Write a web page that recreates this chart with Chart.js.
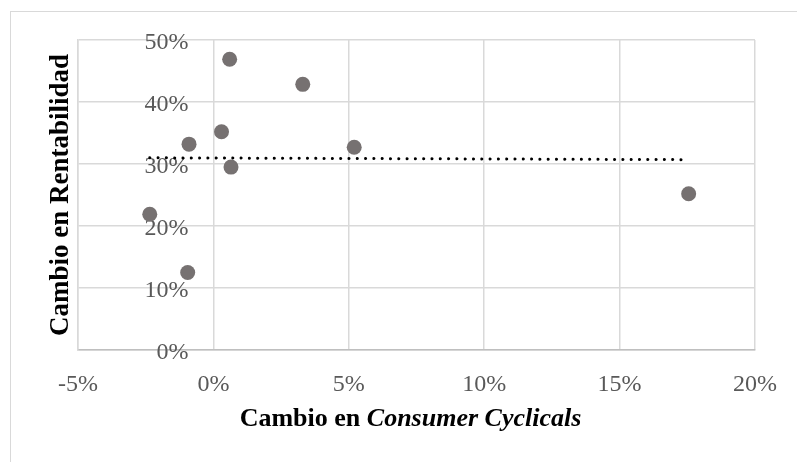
<!DOCTYPE html>
<html>
<head>
<meta charset="utf-8">
<script src="https://cdn.jsdelivr.net/npm/chart.js@4.4.1/dist/chart.umd.min.js"></script>
<style>
    html, body { margin: 0; padding: 0; background: #fff; }
    #wrap { position: relative; width: 797px; height: 462px; overflow: hidden; }
    #frame { position: absolute; left: 10px; top: 11px; width: 800px; height: 470px; border: 1px solid #d9d9d9; }
    #wrap canvas { position: absolute; left: 0; top: 0; }
</style>
</head>
<body>
<div id="wrap">
    <div id="frame"></div>
    <canvas id="cvs" width="797" height="462"></canvas>
</div>
<script>
// cambio en Consumer Cyclicals (%) vs cambio en rentabilidad (%)
const cambioCC     = [0.6, 3.3, 0.3, -0.9, 5.2, 0.65, -2.35, -0.95, 17.55];
const rentabilidad = [46.9, 42.85, 35.2, 33.2, 32.7, 29.5, 21.9, 12.5, 25.2];
// linea de tendencia (extremos)
const tendX = [-2.35, 17.55];
const tendY = [31.0, 30.7];

const xTitle = ['Cambio en ', 'Consumer Cyclicals'];
const yTitle = 'Cambio en Rentabilidad';

const serif = "'Liberation Serif', 'Times New Roman', serif";

const puntos = cambioCC.map((x, i) => ({x: x, y: rentabilidad[i]}));
const tendencia = tendX.map((x, i) => ({x: x, y: tendY[i]}));

// titulo del eje x con parte en cursiva
const xTitlePlugin = {
    id: 'xTitlePlugin',
    afterDraw(chart) {
        const ctx = chart.ctx, area = chart.chartArea;
        ctx.save();
        ctx.fillStyle = '#000';
        ctx.textBaseline = 'middle';
        ctx.font = `bold 26px ${serif}`;
        let w1 = ctx.measureText(xTitle[0]).width;
        ctx.font = `italic bold 26px ${serif}`;
        let w2 = ctx.measureText(xTitle[1]).width;
        let x = (area.left + area.right) / 2 - 6 - (w1 + w2) / 2, y = 419;
        ctx.font = `bold 26px ${serif}`;
        ctx.fillText(xTitle[0], x, y);
        ctx.font = `italic bold 26px ${serif}`;
        ctx.fillText(xTitle[1], x + w1, y);
        ctx.restore();
    }
};

new Chart(document.getElementById('cvs'), {
    type: 'scatter',
    data: {
        datasets: [{
            label: 'Datos',
            data: puntos,
            backgroundColor: '#767171',
            borderWidth: 0,
            pointRadius: 7.5,
            order: 2
        }, {
            type: 'line',
            label: 'Tendencia',
            data: tendencia,
            borderColor: '#000',
            borderWidth: 3,
            borderDash: [0.1, 8.2],
            borderCapStyle: 'round',
            pointRadius: 0,
            fill: false,
            order: 1
        }]
    },
    options: {
        responsive: false,
        animation: false,
        events: [],
        layout: { padding: { left: 0, top: 40, right: 40, bottom: 0 } },
        plugins: { legend: { display: false }, tooltip: { enabled: false } },
        scales: {
            x: {
                type: 'linear',
                min: -5, max: 20,
                grid: { color: '#d9d9d9', lineWidth: 1.5, drawTicks: false },
                border: { color: '#bfbfbf', width: 1.5 },
                ticks: {
                    stepSize: 5,
                    padding: 20,
                    color: '#595959',
                    font: { family: serif, size: 24 },
                    callback: v => v + '%'
                },
                afterFit: s => { s.height = 112; }
            },
            y: {
                type: 'linear',
                position: 'left',
                min: 0, max: 50,
                grid: { color: '#d9d9d9', lineWidth: 1.5, drawTicks: false },
                border: { color: '#d9d9d9', width: 1.5 },
                ticks: { stepSize: 10, display: false },
                title: {
                    display: true,
                    text: yTitle,
                    color: '#000',
                    font: { family: serif, size: 27, weight: 'bold' },
                    padding: { top: 45, bottom: 0 }
                },
                afterFit: s => { s.width = 78; }
            },
            // etiquetas del eje y junto al eje vertical (cruza en x = 0)
            y0: {
                type: 'linear',
                position: { x: -0.92 },
                min: 0, max: 50,
                grid: { display: false, drawTicks: false },
                border: { display: false },
                ticks: {
                    stepSize: 10,
                    padding: 0,
                    labelOffset: 3,
                    color: '#595959',
                    font: { family: serif, size: 24 },
                    callback: v => v + '%'
                }
            }
        }
    },
    plugins: [xTitlePlugin]
});
</script>
</body>
</html>
